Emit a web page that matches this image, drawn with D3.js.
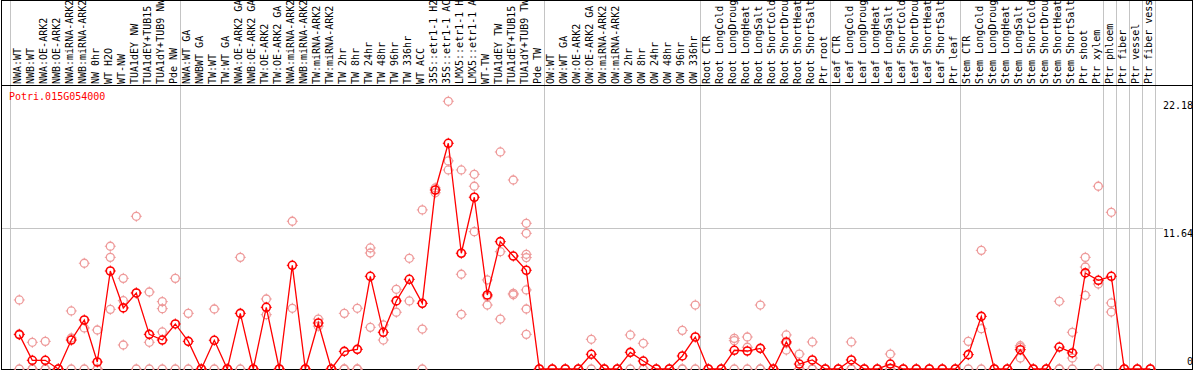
<!DOCTYPE html>
<html>
<head>
<meta charset="utf-8">
<script src="https://cdn.jsdelivr.net/npm/d3@7"></script>
<style>
  body { margin: 0; background: #fff; }
  svg { display: block; }
  text { font-family: "DejaVu Sans Mono", "Liberation Mono", monospace; font-size: 10px; }
</style>
</head>
<body>
<div id="chart"></div>
<script>
var geneName = "Potri.015G054000";

// sample names as they are printed in the header (long ones are cut at 14 chars)
var categories = [
  "NWA:WT", "NWB:WT", "NWA:OE-ARK2", "NWB:OE-ARK2", "NWA:miRNA-ARK2", "NWB:miRNA-ARK2",
  "NW 0hr", "WT H2O", "WT-NW", "TUA1dEY NW", "TUA1dEY+TUB15", "TUA1dY+TUB9 NW", "Pde NW",
  "NWA:WT GA", "NWBWT GA", "TW:WT", "TW:WT GA", "NWA:OE-ARK2 GA", "NWB:OE-ARK2 GA",
  "TW:OE-ARK2", "TW:OE-ARK2 GA", "NWA:miRNA-ARK2", "NWB:miRNA-ARK2", "TW:miRNA-ARK2",
  "TW:miRNA-ARK2 ", "TW 2hr", "TW 8hr", "TW 24hr", "TW 48hr", "TW 96hr", "TW 336hr",
  "WT ACC", "35S::etr1-1 H2", "35S::etr1-1 AC", "LMX5::etr1-1 H", "LMX5::etr1-1 A",
  "WT-TW", "TUA1dEY TW", "TUA1dEY+TUB15 ", "TUA1dY+TUB9 TW", "Pde TW",
  "OW:WT", "OW:WT GA", "OW:OE-ARK2", "OW:OE-ARK2 GA", "OW:miRNA-ARK2", "OW:miRNA-ARK2 ",
  "OW 2hr", "OW 8hr", "OW 24hr", "OW 48hr", "OW 96hr", "OW 336hr",
  "Root CTR", "Root LongCold", "Root LongDroug", "Root LongHeat", "Root LongSalt",
  "Root ShortCold", "Root ShortDrou", "Root ShortHeat", "Root ShortSalt", "Ptr root",
  "Leaf CTR", "Leaf LongCold", "Leaf LongDroug", "Leaf LongHeat", "Leaf LongSalt",
  "Leaf ShortCold", "Leaf ShortDrou", "Leaf ShortHeat", "Leaf ShortSalt", "Ptr leaf",
  "Stem CTR", "Stem LongCold", "Stem LongDroug", "Stem LongHeat", "Stem LongSalt",
  "Stem ShortCold", "Stem ShortDrou", "Stem ShortHeat", "Stem ShortSalt",
  "Ptr shoot", "Ptr xylem", "Ptr phloem", "Ptr fiber", "Ptr vessel", "Ptr fiber vess"
];

// mean expression per sample (red line)
var means = [
  2.85, 0.72, 0.72, 0, 2.40, 4.06, 0.58, 8.12, 5.06, 6.30, 2.87, 2.40, 3.73,
  2.29, 0, 2.38, 0, 4.61, 0, 5.11, 0, 8.59, 0, 3.81, 0, 1.46, 1.63, 7.68, 3.04, 5.64,
  7.43, 5.44, 14.83, 18.70, 9.59, 14.23, 6.13, 10.55, 9.36, 8.18, 0,
  0, 0, 0, 1.22, 0, 0, 1.38, 0.66, 0, 0, 1.08, 2.65,
  0, 0, 1.55, 1.49, 1.71, 0, 2.24, 0.41, 0.75, 0,
  0, 0.75, 0, 0, 0.41, 0, 0, 0, 0, 0,
  1.19, 4.36, 0, 0, 1.60, 0, 0, 1.82, 1.33, 7.96, 7.35, 7.68, 0, 0, 0
];

// individual replicates (pink circles)
var replicates = [
  [5.72, 2.9, 0], [2.21, 0, 0], [2.29, 0, 0], [0, 0, 0], [4.81, 2.57, 0], [8.76, 3.40, 0],
  [3.23, 0, 0], [10.17, 9.25, 4.94], [7.51, 5.66, 1.99], [12.65, 6.3, 0], [6.38, 2.21, 0],
  [5.58, 5.0, 3.07, 0], [7.51, 0],
  [4.61, 0], [0, 0], [4.97, 0], [0, 0], [9.25, 0], [0, 0], [5.80, 4.50], [0, 0],
  [12.24, 5.03], [0, 0], [4.14, 3.55], [0, 0], [4.61, 0, 0], [5.03, 0, 0],
  [10.03, 9.61, 3.45], [3.65, 2.40], [6.60, 4.70], [9.17, 5.64], [13.18, 3.31, 0],
  [15.0, 14.6], [22.18, 17.24, 16.49], [16.49, 7.85, 4.53], [16.13, 15.14, 11.38],
  [7.38, 5.99, 5.30], [17.98, 9.72, 4.14], [15.66, 6.27, 6.15],
  [12.07, 11.24, 9.50, 9.23, 6.55, 4.97, 2.87], [0, 0],
  [0, 0], [0, 0], [0, 0], [2.46, 0], [0, 0], [0, 0], [2.82, 0], [2.13, 0, 0], [0, 0],
  [0, 0], [3.20, 0, 0], [5.30, 0],
  [0, 0], [0, 0], [2.54, 2.35, 0], [2.65, 1.80, 0], [5.30, 0, 0], [0, 0],
  [2.82, 2.13, 1.57], [1.24, 0, 0], [2.24, 0, 0], [0, 0],
  [0, 0], [2.24, 0, 0], [0, 0], [0, 0], [1.24, 0, 0], [0, 0], [0, 0], [0, 0], [0, 0], [0, 0],
  [2.29, 0], [9.83, 3.34, 0], [0, 0], [0, 0], [1.93, 1.80, 0.91], [0, 0], [0, 0],
  [5.61, 0, 0], [3.04, 0.91, 0], [9.25, 8.45, 6.10], [15.14, 7.04, 0],
  [12.98, 5.47, 4.72], [0, 0], [0, 0], [0, 0]
];

// last sample index of each tissue group (a grey rule follows it)
var groupEnds = [12, 40, 52, 62, 72, 83, 84, 85, 86, 87];
var yTicks = [0, 11.64, 22.18];

var width = 1194, height = 370;

var x = d3.scaleBand().domain(d3.range(categories.length)).range([11, 1155]);
var y = d3.scaleLinear().domain([0, 23.28]).range([369, 88]);
function cx(i) { return x(i) + 8.3; }

var svg = d3.select("#chart").append("svg")
  .attr("width", width).attr("height", height);

// grey rules
svg.append("line")
  .attr("x1", 10.5).attr("x2", 10.5).attr("y1", 0).attr("y2", 369)
  .style("stroke", "#c4c4c4");
svg.selectAll(".sep")
  .data(groupEnds)
  .enter().append("line")
  .attr("class", "sep")
  .attr("x1", function(d) { return Math.floor(x(d) + x.bandwidth()) + 0.5; })
  .attr("x2", function(d) { return Math.floor(x(d) + x.bandwidth()) + 0.5; })
  .attr("y1", 0).attr("y2", 369)
  .style("stroke", "#c4c4c4");

svg.append("line")
  .attr("x1", 1).attr("x2", 1163)
  .attr("y1", Math.floor(y(yTicks[1])) + 0.5).attr("y2", Math.floor(y(yTicks[1])) + 0.5)
  .style("stroke", "#c4c4c4");

// frame and header rule
svg.append("rect")
  .attr("x", 1.5).attr("y", 0.5).attr("width", 1191).attr("height", 369)
  .style("fill", "none").style("stroke", "#000");
svg.append("line")
  .attr("x1", 1).attr("x2", 1193).attr("y1", 85.5).attr("y2", 85.5)
  .style("stroke", "#000");

// sample labels, rotated
svg.selectAll(".lab")
  .data(categories)
  .enter().append("text")
  .attr("class", "lab")
  .attr("transform", function(d, i) { return "translate(" + (cx(i) + 1.8) + ",84) rotate(-90)"; })
  .style("fill", "#000")
  .style("white-space", "pre")
  .text(function(d) { return d.trim(); });

// y labels on the right
svg.selectAll(".ytick")
  .data(yTicks)
  .enter().append("text")
  .attr("class", "ytick")
  .attr("x", 1193)
  .attr("y", function(d) { return Math.min(y(d) + 8, 365); })
  .attr("text-anchor", "end")
  .style("fill", "#000")
  .text(function(d) { return d; });

svg.append("text")
  .attr("x", 9).attr("y", 100)
  .style("fill", "#ff0000")
  .text(geneName);

// marker: circle with four little ticks
function marker(sel, color, sw) {
  sel.append("circle").attr("r", 4)
    .style("fill", "none").style("stroke", color).style("stroke-width", sw);
  sel.append("path").attr("d", "M0,-5.5V-3.5M0,3.5V5.5M-5.5,0H-3.5M3.5,0H5.5")
    .style("stroke", color).style("stroke-width", 1);
}

var repData = [];
replicates.forEach(function(reps, i) {
  reps.forEach(function(v) { repData.push({i: i, v: v}); });
});

svg.selectAll(".rep")
  .data(repData)
  .enter().append("g")
  .attr("class", "rep")
  .attr("transform", function(d) { return "translate(" + cx(d.i) + "," + y(d.v) + ")"; })
  .call(marker, "#ee9a9a", 1.3);

var line = d3.line()
  .x(function(d, i) { return cx(i); })
  .y(function(d) { return y(d); });

svg.append("path")
  .datum(means)
  .attr("d", line)
  .style("fill", "none")
  .style("stroke", "#ff0000")
  .style("stroke-width", 1.3);

svg.selectAll(".mean")
  .data(means)
  .enter().append("g")
  .attr("class", "mean")
  .attr("transform", function(d, i) { return "translate(" + cx(i) + "," + y(d) + ")"; })
  .call(marker, "#ff0000", 1.6);
</script>
</body>
</html>
